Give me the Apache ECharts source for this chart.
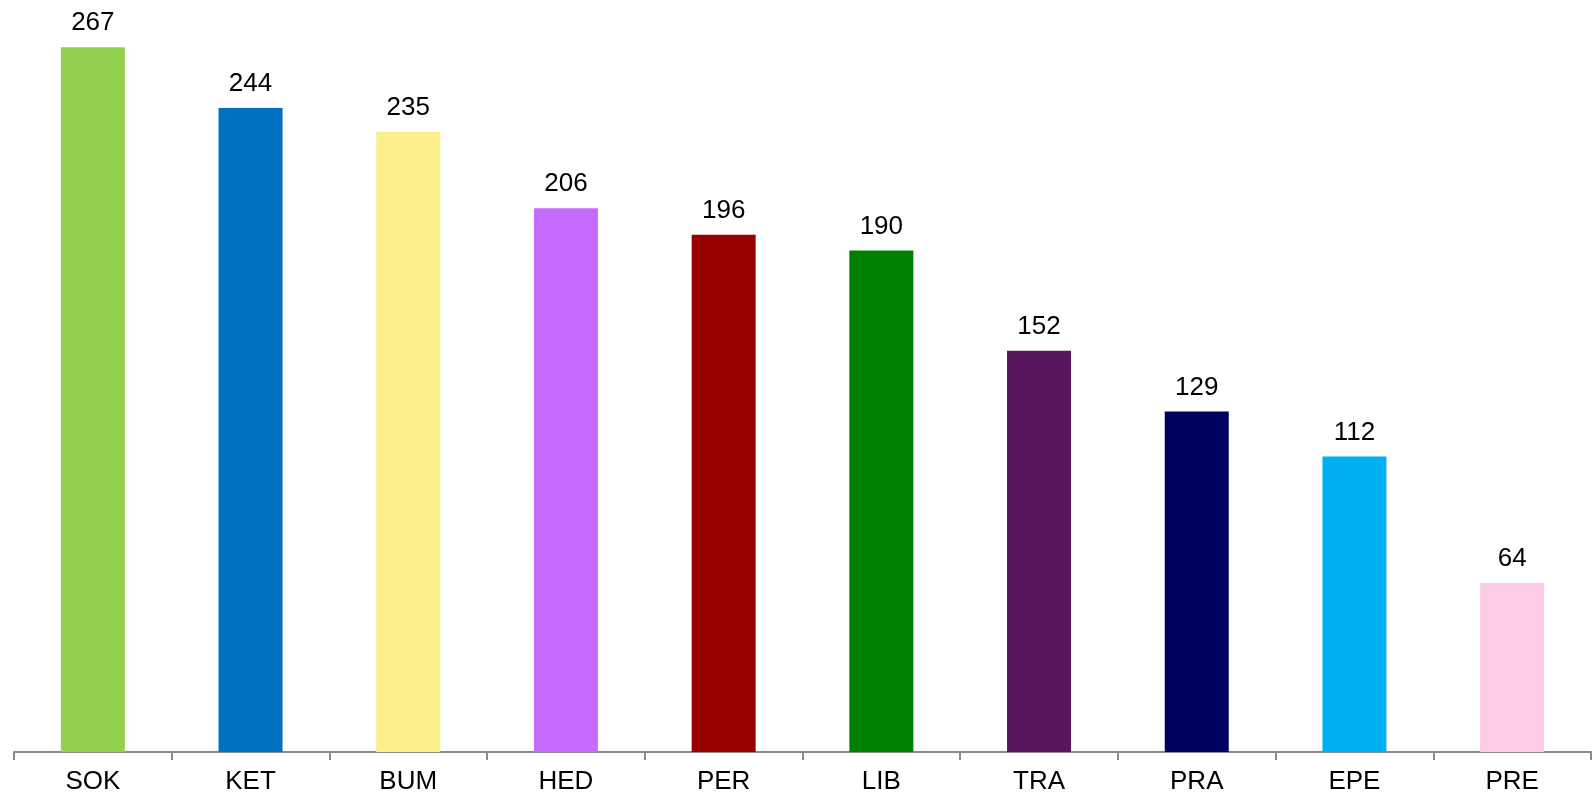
<!DOCTYPE html>
<html>
<head>
<meta charset="utf-8">
<script src="https://cdn.jsdelivr.net/npm/echarts@6/dist/echarts.min.js"></script>
<style>
	html, body { margin: 0; padding: 0; background: #fff; }
	#chart { width: 1595px; height: 796px; }
</style>
</head>
<body>
<div id="chart"></div>
<script>
// 分类与数据
var categories = ['SOK', 'KET', 'BUM', 'HED', 'PER', 'LIB', 'TRA', 'PRA', 'EPE', 'PRE'];
var values = [267, 244, 235, 206, 196, 190, 152, 129, 112, 64];
var barColors = ['#92d050', '#0070c0', '#fcf08c', '#c66bff', '#990000', '#008000', '#58175c', '#000060', '#00b0f0', '#fdcce6'];

var myChart = echarts.init(document.getElementById('chart'));

var option = {
	animation: false,
	textStyle: {
		fontFamily: 'Liberation Sans, Arial, sans-serif'
	},
	grid: {
		left: 14,
		right: 4,
		top: 13,
		bottom: 44,
		containLabel: false
	},
	xAxis: {
		type: 'category',
		data: categories,
		axisLine: {
			lineStyle: {
				color: '#898989',
				width: 2
			}
		},
		axisTick: {
			show: true,
			length: 8,
			lineStyle: {
				color: '#898989',
				width: 2
			}
		},
		axisLabel: {
			color: '#000',
			fontSize: 26,
			margin: 17
		}
	},
	yAxis: {
		type: 'value',
		min: 0,
		max: 280,
		show: false,
		splitLine: { show: false }
	},
	series: [{
		type: 'bar',
		barWidth: 64,
		data: values.map(function(v, i) {
			return { value: v, itemStyle: { color: barColors[i] } };
		}),
		label: {
			show: true,
			position: 'top',
			distance: 11,
			color: '#000',
			fontSize: 26
		}
	}]
};
myChart.setOption(option);
</script>
</body>
</html>
